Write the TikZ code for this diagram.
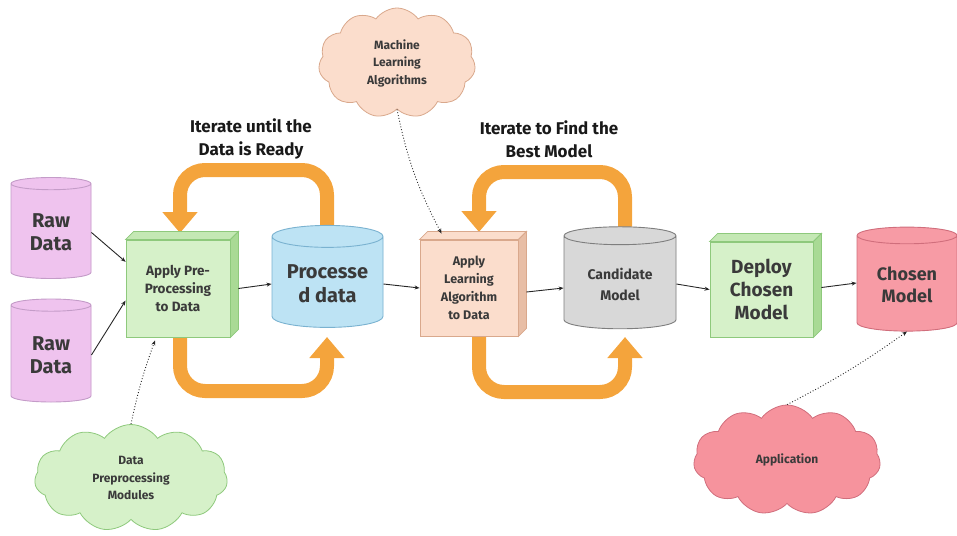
\documentclass[tikz,border=0pt]{standalone}
\usepackage{fontspec}
\setmainfont{Fira Sans}
\usepackage{tikz}
\usetikzlibrary{shapes.geometric}
\usetikzlibrary{shapes.symbols}
\usetikzlibrary{arrows.meta}
\usetikzlibrary{calc}

\definecolor{texto}{HTML}{3A3A3A}
\definecolor{naranja}{HTML}{F4A43C}
\definecolor{rosa}{HTML}{EFC3EE}
\definecolor{rosatapa}{HTML}{F6D8F5}
\definecolor{rosaborde}{HTML}{C49CC8}
\definecolor{verde}{HTML}{D6F1C9}
\definecolor{verdetapa}{HTML}{C4E8B4}
\definecolor{verdelado}{HTML}{A9DA95}
\definecolor{verdeborde}{HTML}{8EC97C}
\definecolor{azul}{HTML}{BDE3F4}
\definecolor{azultapa}{HTML}{D0ECF8}
\definecolor{azulborde}{HTML}{7AB2D0}
\definecolor{melocoton}{HTML}{FBDDCC}
\definecolor{melocotonlado}{HTML}{E8BEA6}
\definecolor{melocotonborde}{HTML}{D9A88C}
\definecolor{gris}{HTML}{D8D8D8}
\definecolor{gristapa}{HTML}{E7E7E7}
\definecolor{grisborde}{HTML}{7E7E7E}
\definecolor{rojo}{HTML}{F79BA5}
\definecolor{rojotapa}{HTML}{F9B7BE}
\definecolor{rojoborde}{HTML}{D06E7C}
\definecolor{nube}{HTML}{F6939D}

% Caras de fondo de una caja 3D: nodo, color arriba, color lado, borde
\newcommand{\caras}[4]{%
  \filldraw[fill=#2, draw=#4, line width=0.8pt] (#1.north west) -- ++(8,-8)
    -- ($(#1.north east)+(8,-8)$) -- (#1.north east) -- cycle;
  \filldraw[fill=#3, draw=#4, line width=0.8pt] (#1.north east) -- ++(8,-8)
    -- ($(#1.south east)+(8,-8)$) -- (#1.south east) -- cycle;
}

\begin{document}
\begin{tikzpicture}[x=1pt, y=-1pt,
    cil/.style={cylinder, shape border rotate=90, aspect=0.25, draw, line width=0.9pt,
      cylinder uses custom fill, align=center, text=texto, font=\bfseries},
    cubo/.style={rectangle, draw, line width=0.9pt, align=center, text=texto, font=\bfseries},
    nubecita/.style={cloud, cloud puffs=11, cloud puff arc=110, cloud ignores aspect, draw, line width=0.8pt,
      align=center, text=texto, font=\bfseries\fontsize{12}{17.5}\selectfont},
    titulo/.style={align=center, font=\bfseries\fontsize{17}{23}\selectfont, text=black!90},
    flecha/.style={-{Stealth[length=5pt,width=4pt]}, line width=0.9pt, black!85},
    punteada/.style={-{Stealth[length=5pt,width=4pt]}, dotted, line width=0.9pt, black!85},
    lazo/.style={naranja, line width=14pt, rounded corners=25pt,
      -{Triangle[width=34pt,length=21pt]}}]
        \useasboundingbox (0,0) rectangle (957,535);

        % Lazos naranjas (detras de los nodos)
        \coordinate (l1a) at (327,233);
        \coordinate (l1b) at (180,233);
        \coordinate (l1c) at (180,337);
        \coordinate (l1d) at (327,337);
        \coordinate (l2a) at (625,233);
        \coordinate (l2b) at (479,232);
        \coordinate (l2c) at (479,336);
        \coordinate (l2d) at (625,337);
        \draw[lazo] (l1a) -- ++(0,-63) -| (l1b);
        \draw[lazo] (l1c) -- ++(0,54) -| (l1d);
        \draw[lazo] (l2a) -- ++(0,-61) -| (l2b);
        \draw[lazo] (l2c) -- ++(0,56) -| (l2d);

        % Datos de entrada
        \node[cil, minimum width=80pt, minimum height=101pt, fill=rosa, draw=rosaborde,
          cylinder body fill=rosa, cylinder end fill=rosatapa,
          font=\bfseries\fontsize{20}{23}\selectfont] (raw1) at (51,232.5) {Raw\\Data};
        \node[cil, minimum width=80pt, minimum height=103pt, fill=rosa, draw=rosaborde,
          cylinder body fill=rosa, cylinder end fill=rosatapa,
          font=\bfseries\fontsize{20}{23}\selectfont] (raw2) at (51,355) {Raw\\Data};

        % Preprocesado
        \node[cubo, minimum width=104pt, minimum height=97pt, fill=verde, draw=verdeborde,
          font=\bfseries\fontsize{13.5}{18}\selectfont] (pre) at (178,288.5) {Apply Pre-\\Processing\\to Data};
        \caras{pre}{verdetapa}{verdelado}{verdeborde}

        % Datos procesados
        \node[cil, minimum width=111pt, minimum height=102pt, fill=azul, draw=azulborde,
          cylinder body fill=azul, cylinder end fill=azultapa,
          font=\bfseries\fontsize{20}{24}\selectfont] (proc) at (327.5,284) {Processe\\d data};

        % Aprendizaje
        \node[cubo, minimum width=98pt, minimum height=96pt, fill=melocoton, draw=melocotonborde,
          font=\bfseries\fontsize{12.5}{18}\selectfont] (learn) at (469,288) {Apply\\Learning\\Algorithm\\to Data};
        \caras{learn}{melocoton}{melocotonlado}{melocotonborde}

        % Modelo candidato
        \node[cil, minimum width=112pt, minimum height=102pt, fill=gris, draw=grisborde,
          cylinder body fill=gris, cylinder end fill=gristapa,
          font=\bfseries\fontsize{14}{21}\selectfont] (cand) at (620,284) {Candidate\\Model};

        % Despliegue
        \node[cubo, minimum width=103pt, minimum height=95pt, fill=verde, draw=verdeborde,
          font=\bfseries\fontsize{19}{23}\selectfont] (deploy) at (761.5,289.5) {Deploy\\Chosen\\Model};
        \caras{deploy}{verdetapa}{verdelado}{verdeborde}

        % Modelo elegido
        \node[cil, minimum width=100pt, minimum height=104pt, fill=rojo, draw=rojoborde,
          cylinder body fill=rojo, cylinder end fill=rojotapa,
          font=\bfseries\fontsize{18}{22}\selectfont] (chosen) at (907,285) {Chosen\\Model};

        % Nubes
        \node[nubecita, minimum width=157pt, minimum height=110pt, fill=melocoton, draw=melocotonborde]
          (ml) at (397,63) {Machine\\Learning\\Algorithms};
        \node[nubecita, minimum width=193pt, minimum height=107pt, fill=verde, draw=verdeborde]
          (dpm) at (131,478) {Data\\Preprocessing\\Modules};
        \node[nubecita, minimum width=187pt, minimum height=110pt, fill=nube, draw=rojoborde]
          (app) at (787,460) {Application};

        % Titulos de los lazos
        \node[titulo] (t1) at (251,139) {Iterate until the\\Data is Ready};
        \node[titulo] (t2) at (549,139) {Iterate to Find the\\Best Model};

        % Flechas del flujo
        \draw[flecha] (raw1.east) -- (pre.153);
        \draw[flecha] (raw2.east) -- (pre.193);
        \draw[flecha] ($(pre.east)+(8,0)$) -- (proc.west);
        \draw[flecha] (proc.east) -- (learn.west);
        \draw[flecha] ($(learn.east)+(8,4)$) -- ($(cand.west)+(0,4)$);
        \draw[flecha] (cand.east) -- (deploy.west);
        \draw[flecha] ($(deploy.east)+(8,-2)$) -- ($(chosen.west)+(0,-2)$);

        % Flechas punteadas
        \draw[punteada] (ml.south) to[bend right=8] ($(learn.north west)+(22,-6)$);
        \draw[punteada] (dpm.north) to[bend left=4] ($(pre.south)+(-23,3)$);
        \draw[punteada] (app.north) to[bend right=4] (chosen.south);
    \end{tikzpicture}
\end{document}
